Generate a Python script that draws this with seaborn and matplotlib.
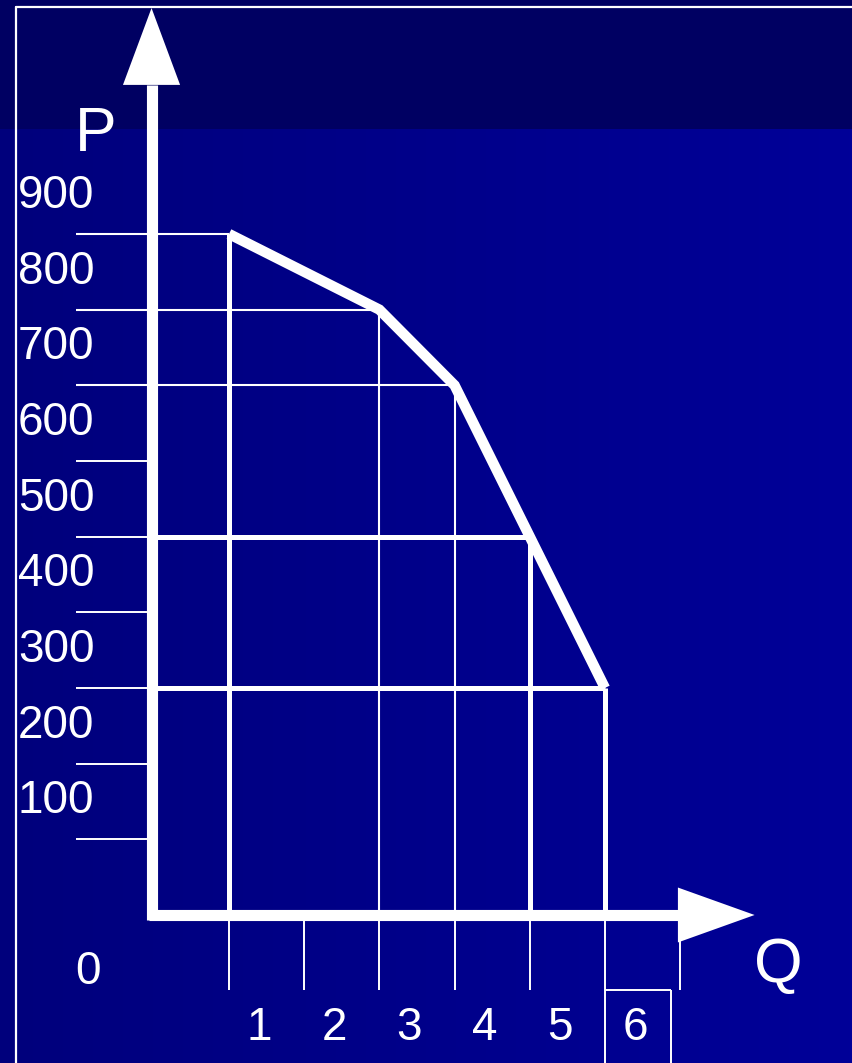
import numpy as np
import pandas as pd
import matplotlib
matplotlib.use("Agg")
import matplotlib.pyplot as plt
from matplotlib.patches import Polygon, Rectangle
from matplotlib.colors import LinearSegmentedColormap
import seaborn as sns

# ---- data ----
quantity = [1, 3, 4, 5, 6]
price = [900, 800, 700, 500, 300]
y_tick_values = [100, 200, 300, 400, 500, 600, 700, 800, 900]
y_tick_labels = ["100", "200", "300", "400", "500", "600", "700", "800", "900"]
x_tick_values = [1, 2, 3, 4, 5, 6, 7]
x_tick_labels = ["1", "2", "3", "4", "5", "6"]
thick_points = [0, 3, 4]      # indices of points with heavy guides
thin_points = [1, 2]
axis_labels = ("Q", "P")

sns.set_theme(style="white")
plt.rcParams['font.family'] = ['Liberation Sans', 'DejaVu Sans']

fig = plt.figure(figsize=(8.52, 10.63), dpi=100)
ax = fig.add_axes([0, 0, 1, 1])
XMIN, XMAX = -2.045, 9.285
YMIN, YMAX = -195.6, 1209.2
ax.set_xlim(XMIN, XMAX)
ax.set_ylim(YMIN, YMAX)
ax.axis("off")

# background gradient + top band
cmap = LinearSegmentedColormap.from_list("bg", ["#00007c", "#000098"])
grad = np.linspace(0, 1, 256).reshape(1, -1)
ax.imshow(grad, extent=[XMIN, XMAX, YMIN, YMAX], aspect="auto", cmap=cmap, zorder=0)
band_bottom = 915 / 0.7567 - 129 / 0.7567
ax.add_patch(Rectangle((XMIN, band_bottom), XMAX - XMIN, YMAX - band_bottom,
                       color="#000062", zorder=0.5, lw=0))

# frame lines
ax.plot([0.0188, 1.0], [0.9934, 0.9934], transform=ax.transAxes, color="white", lw=1.6, zorder=1)
ax.plot([0.0188, 0.0188], [0.0, 0.9934], transform=ax.transAxes, color="white", lw=1.6, zorder=1)

W = "white"
tick_left = -1.035
tick_bottom = -99
y_axis_q = -0.03

# y tick lines
ax.hlines(y_tick_values, tick_left, y_axis_q, colors=W, lw=1.4, zorder=2)
# x tick lines
ax.vlines(x_tick_values, tick_bottom, 0, colors=W, lw=1.4, zorder=2)
# box around the 6 label
ax.vlines([6], YMIN, tick_bottom, colors=W, lw=1.4, zorder=2)
ax.hlines([tick_bottom], 6, 6.88, colors=W, lw=1.4, zorder=2)
ax.vlines([6.88], YMIN, tick_bottom, colors=W, lw=1.4, zorder=2)

# guides
for i in thin_points:
    ax.vlines(quantity[i], 0, price[i], colors=W, lw=1.5, zorder=2)
    ax.hlines(price[i], tick_left, quantity[i], colors=W, lw=1.5, zorder=2)
for i in thick_points:
    ax.vlines(quantity[i], 0, price[i], colors=W, lw=3.6, zorder=2)
    if i == 0:
        ax.hlines(price[i], tick_left, quantity[i], colors=W, lw=1.5, zorder=2)
    else:
        ax.hlines(price[i], y_axis_q, quantity[i], colors=W, lw=3.6, zorder=2)

# demand curve
df = pd.DataFrame({"Q": quantity, "P": price})
sns.lineplot(data=df, x="Q", y="P", ax=ax, color=W, lw=7.5, zorder=4,
             sort=False, solid_joinstyle="miter", solid_capstyle="butt")

# axes with arrows
ax.plot([y_axis_q, y_axis_q], [-7, 1097], color=W, lw=8, zorder=5, solid_capstyle="butt")
ax.plot([y_axis_q - 0.03, 6.97], [0, 0], color=W, lw=8, zorder=5, solid_capstyle="butt")
ax.add_patch(Polygon([[y_axis_q - 0.38, 1097], [y_axis_q + 0.38, 1097], [y_axis_q, 1198.6]],
                     closed=True, color=W, lw=0, zorder=5))
ax.add_patch(Polygon([[6.97, 36.3], [6.97, -36.3], [7.99, 0]], closed=True,
                     color=W, lw=0, zorder=5))

# labels
for v, lab in zip(y_tick_values, y_tick_labels):
    ax.text(-1.806, v + 50, lab, color=W, fontsize=33, ha="left", va="center", zorder=6)
for v, lab in zip(x_tick_values, x_tick_labels):
    ax.text(v + 0.4, -149, lab, color=W, fontsize=33, ha="center", va="center", zorder=6)
ax.text(-0.88, -75, "0", color=W, fontsize=33, ha="center", va="center", zorder=6)
ax.text(-0.77, 1031, axis_labels[1], color=W, fontsize=45, ha="center", va="center", zorder=6)
ax.text(8.31, -67, axis_labels[0], color=W, fontsize=45, ha="center", va="center", zorder=6)

fig.savefig("out.png", dpi=100, facecolor=fig.get_facecolor())
